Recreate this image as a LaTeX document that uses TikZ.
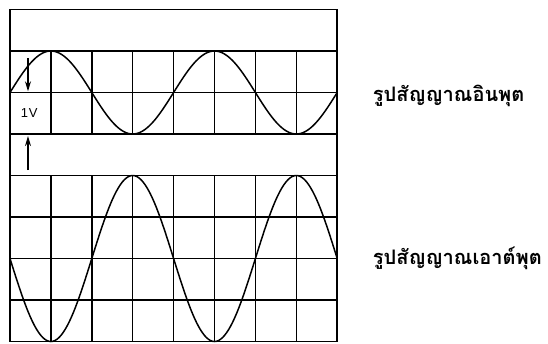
\documentclass[tikz,border=0pt]{standalone}
\usepackage{fontspec}
\newfontfamily\thaifont[Script=Thai]{Loma}
\setsansfont{Liberation Sans}
\usetikzlibrary{arrows.meta}

\begin{document}
\begin{tikzpicture}[
  x=40.9pt, y=-41.5pt,
  grid/.style={line width=1.5pt},
  wave/.style={line width=1.5pt, smooth},
  arr/.style={-{Stealth[length=10pt, width=6pt]}, line width=1.1pt},
  sig/.style={anchor=west, font=\thaifont\bfseries\fontsize{20}{23}\selectfont, inner sep=0pt},
  volt/.style={font=\sffamily\fontsize{13}{14}\selectfont, inner sep=0pt}
]
  \useasboundingbox (-0.2445,-0.229) rectangle (13.154,8.036);
  \fill[white] (-0.2445,-0.229) rectangle (13.154,8.036);
  \foreach \r in {1,...,7}
    \draw[grid] (0,\r) -- (8,\r);
  \foreach \c in {1,...,7} {
    \draw[grid] (\c,1) -- (\c,3);
    \draw[grid] (\c,4) -- (\c,8);
  }
  \draw[grid] (0,0) rectangle (8,8);
  \draw[wave] plot[domain=0:8, samples=161] (\x, {2 - sin(90*\x)});
  \draw[wave] plot[domain=0:8, samples=161] (\x, {6 + 2*sin(90*\x)});
  \node[volt] (v) at (0.47,2.5) {1\kern1pt V};
  \coordinate (d0) at (0.44,1.17);
  \coordinate (d1) at (0.44,1.97);
  \coordinate (u0) at (0.44,3.87);
  \coordinate (u1) at (0.44,3.05);
  \draw[arr] (d0) -- (d1);
  \draw[arr] (u0) -- (u1);
  \node[sig] (in)  at (8.87,2.08) {รูปสัญญาณอินพุต};
  \node[sig] (out) at (8.87,6.0) {รูปสัญญาณเอาต์พุต};
\end{tikzpicture}
\end{document}
